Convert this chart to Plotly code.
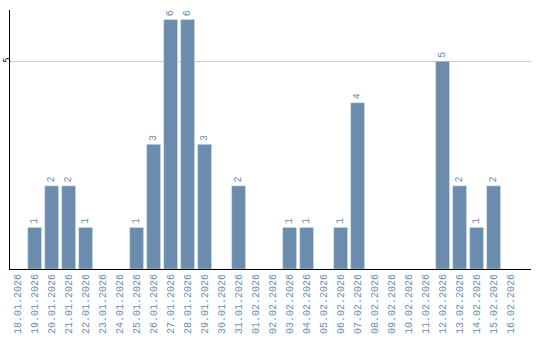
import plotly.graph_objects as go

dates = ["18.01.2026","19.01.2026","20.01.2026","21.01.2026","22.01.2026","23.01.2026",
         "24.01.2026","25.01.2026","26.01.2026","27.01.2026","28.01.2026","29.01.2026",
         "30.01.2026","31.01.2026","01.02.2026","02.02.2026","03.02.2026","04.02.2026",
         "05.02.2026","06.02.2026","07.02.2026","08.02.2026","09.02.2026","10.02.2026",
         "11.02.2026","12.02.2026","13.02.2026","14.02.2026","15.02.2026","16.02.2026"]
counts = [0,1,2,2,1,0,0,1,3,6,6,3,0,2,0,0,1,1,0,1,4,0,0,0,0,5,2,1,2,0]

bar_color = "#6b8cad"
xs = list(range(len(dates)))

fig = go.Figure(go.Bar(x=xs, y=counts, marker_color=bar_color, cliponaxis=False))
for i, v in zip(xs, counts):
    if v > 0:
        fig.add_annotation(x=i, y=v, text=str(v), textangle=-90, showarrow=False,
                           yanchor="bottom", yshift=1,
                           font=dict(family="Liberation Mono", size=10, color=bar_color))
fig.update_layout(
    width=540, height=340, margin=dict(l=10, r=9, t=10, b=71),
    plot_bgcolor="white", paper_bgcolor="white", bargap=0.18, showlegend=False,
)
fig.update_xaxes(
    tickmode="array", tickvals=xs, ticktext=dates, automargin=False,
    tickangle=-90, tickfont=dict(family="Liberation Mono", size=10, color=bar_color),
    range=[-0.45, 30.2], showline=True, linecolor="black", linewidth=1.2,
    showgrid=False, ticks="", zeroline=False,
)
fig.update_yaxes(
    range=[0, 6.23], tickvals=[5], tickangle=-90, automargin=False,
    ticklabelstandoff=-4,
    tickfont=dict(family="DejaVu Sans", size=8, color="black"),
    showline=True, linecolor="black", linewidth=1.2,
    showgrid=True, gridcolor="#cccccc", zeroline=False, ticks="",
)
fig.write_html("out.html")
